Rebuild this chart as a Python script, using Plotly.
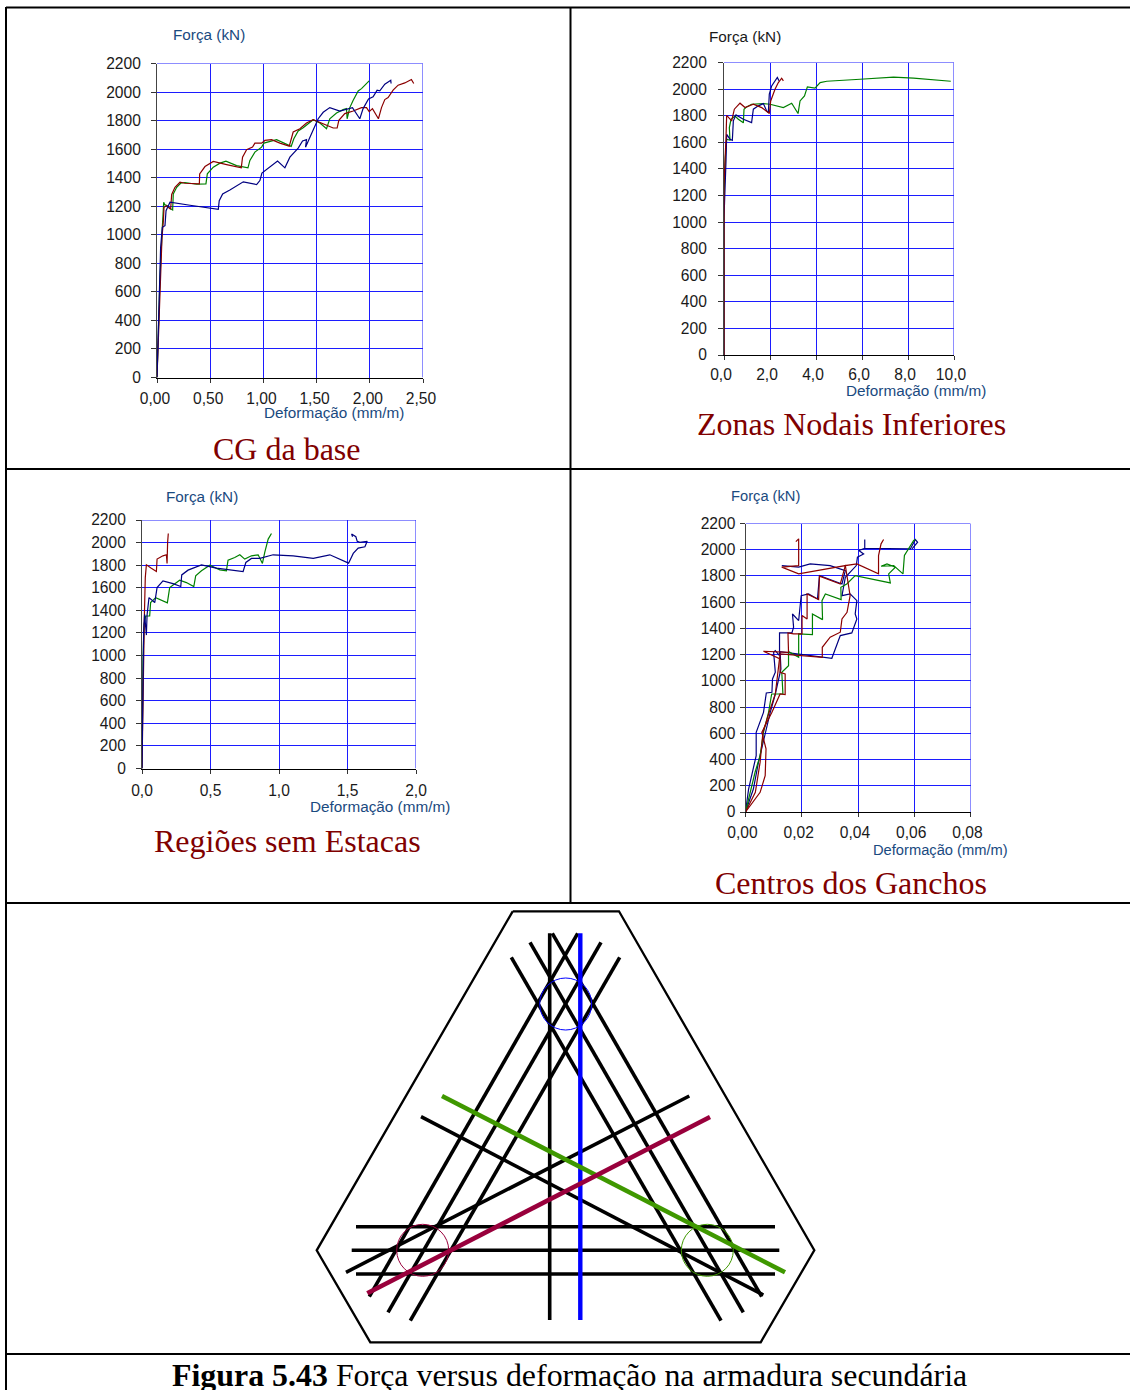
import plotly.graph_objects as go

W, H = 1130, 1390
NAVY, GREEN, RED = "#000080", "#008000", "#8b0000"
GRID = "#1c1cff"
TXT = "#1a4a80"

# ---------- data (deformation mm/m, force kN) ----------
a_green_x = [0,.013,.028,.05,.06,.063,.072,.097,.116,.147,.153,.185,.222,.263,.372,.46,.473,.529,.592,.648,.748,.855,.873,.92,.983,1.005,1.124,1.218,1.261,1.286,1.327,1.374,1.468,1.531,1.593,1.624,1.687,1.75,1.781,1.787,1.812,1.844,1.891,1.922,1.969,1.994]
a_green_y = [0,420,700,1052,1193,1228,1211,1204,1188,1174,1286,1333,1361,1366,1354,1357,1427,1474,1502,1516,1485,1469,1521,1579,1614,1642,1666,1633,1619,1673,1727,1750,1806,1783,1743,1813,1853,1877,1884,1813,1891,1942,2008,2024,2060,2078]
a_red_x = [0,.013,.034,.047,.06,.066,.091,.128,.138,.169,.216,.263,.398,.401,.451,.529,.654,.792,.804,.842,.898,.92,.983,1.014,1.077,1.155,1.243,1.28,1.343,1.405,1.468,1.562,1.656,1.693,1.709,1.765,1.844,1.922,1.969,1.994,2.025,2.081,2.11,2.141,2.172,2.219,2.266,2.329,2.391,2.413]
a_red_y = [0,302,700,982,1099,1193,1204,1179,1282,1333,1368,1361,1357,1427,1478,1514,1492,1469,1544,1596,1614,1642,1642,1661,1666,1642,1621,1720,1743,1783,1806,1778,1748,1748,1802,1849,1867,1891,1891,1863,1884,1813,1891,1947,1961,2013,2048,2064,2088,2060]
a_blue_x = [0,.016,.034,.05,.075,.085,.122,.31,.576,.585,.617,.685,.748,.811,.936,.967,.986,1.061,1.133,1.202,1.249,1.327,1.368,1.405,1.396,1.452,1.499,1.515,1.562,1.624,1.718,1.837,1.906,1.937,1.988,2.031,2.069,2.094,2.141,2.197,2.2]
a_blue_y = [0,420,911,1052,1064,1169,1228,1207,1179,1239,1286,1314,1345,1371,1352,1380,1432,1474,1516,1469,1544,1607,1657,1666,1614,1708,1778,1813,1858,1891,1867,1891,1813,1884,1952,1966,2013,2008,2055,2083,2060]

b_green_x = [0,0,.058,.116,.26,.232,.305,.478,.623,.841,.87,.986,1.2,1.71,2.0,2.581,2.943,3.219,3.306,3.5,3.625,3.958,4.18,4.47,5.92,7.37,8.24,9.86]
b_green_y = [0,1183,1485,1623,1615,1710,1773,1798,1773,1746,1849,1866,1886,1891,1886,1861,1894,1816,1911,1949,2017,2007,2049,2059,2074,2090,2082,2059]
b_red_x = [0,0,.087,.116,.333,.45,.696,.913,1.276,1.638,1.972,2.03,2.218,2.363,2.508,2.581]
b_red_y = [0,1284,1635,1803,1761,1849,1894,1861,1886,1861,1816,1911,1999,2049,2082,2062]
b_blue_x = [0,0,.087,.116,.261,.362,.406,.522,.841,1.2,1.276,1.493,1.71,1.856,1.928,1.97,2.073,2.174,2.319,2.39]
b_blue_y = [0,1033,1460,1660,1623,1615,1761,1806,1773,1748,1849,1874,1891,1836,1823,1962,2024,2049,2087,2062]

c_green_x = [0,.007,.015,.027,.056,.063,.1,.141,.185,.202,.239,.275,.324,.378,.392,.434,.495,.568,.616,.628,.677,.714,.75,.799,.848,.879,.896,.921,.945]
c_green_y = [0,950,1276,1350,1350,1469,1513,1489,1466,1602,1637,1667,1646,1611,1706,1750,1800,1759,1750,1845,1868,1892,1854,1883,1892,1815,1913,2031,2081]
c_red_x = [0,.007,.017,.024,.032,.068,.105,.11,.153,.178,.183,.187,.192]
c_red_y = [0,802,1335,1691,1803,1773,1744,1854,1883,1892,1815,2002,2081]
c_blue_x = [0,.007,.012,.019,.032,.037,.051,.093,.11,.153,.226,.283,.29,.336,.434,.543,.738,.758,.799,.86,.957,1.103,1.25,1.371,1.508,1.542,1.578,1.627,1.644,1.59,1.571,1.561,1.53,1.537]
c_blue_y = [0,891,1217,1365,1181,1359,1513,1469,1602,1661,1637,1611,1714,1756,1803,1774,1744,1824,1860,1860,1892,1883,1860,1892,1818,1904,1951,1963,2011,2002,2011,2052,2076,2052]

d_green_x = [0,.0017,.0034,.0052,.0064,.0082,.0093,.0133,.0129,.0153,.0153,.0189,.0189,.0238,.0238,.0274,.0272,.0284,.034,.0339,.036,.039,.0515,.0509,.0533,.0503,.0482,.0527,.056,.0565,.0598,.0604]
d_green_y = [0,150,303,430,608,760,900,900,1066,1116,1223,1180,1358,1353,1510,1467,1612,1663,1620,1714,1739,1803,1747,1816,1867,1892,1874,1879,1816,1956,2070,2078]
d_red1_x = [0,.0052,.007,.0073,.0058,.0094,.0123,.0141,.0141,.0123,.0123,.0064,.0153,.0151,.0171,.0201,.0201,.0219,.0219,.026,.0263,.0337,.0355,.0189,.0129,.0189,.0189,.0189,.0179]
d_red1_y = [0,150,277,481,608,760,900,895,1053,1066,1167,1226,1218,1366,1358,1358,1498,1472,1663,1620,1798,1739,1879,1816,1867,1879,2000,2083,2062]
d_red2_x = [0,.0035,.0052,.0062,.0084,.0106,.0123,.0273,.0273,.0301,.0337,.0343,.0361,.0372,.0355,.0396,.0473,.0473,.0482,.0491]
d_red2_y = [0,150,380,608,760,900,1205,1180,1256,1333,1371,1472,1523,1650,1879,1892,1816,1956,2045,2078]
d_blue1_x = [0,.0011,.0038,.0038,.0064,.0074,.0094,.0096,.0106,.01,.0106,.0121,.0121,.0165,.0171,.0167,.0189,.0198,.0224,.0256,.0263,.0343,.0355,.0313,.0301,.023,.0189,.0129]
d_blue1_y = [0,175,430,608,760,908,913,1015,1066,1218,1231,1193,1366,1366,1409,1510,1460,1650,1663,1625,1803,1739,1841,1867,1879,1892,1867,1879]
d_blue2_x = [0,.0028,.0046,.007,.0088,.0106,.0126,.0123,.0307,.0337,.0378,.0396,.039,.0396,.0372,.0343,.0355,.0394,.0398,.042,.0403,.0424,.0424,.0424,.0586,.0604,.0612,.0592]
d_blue2_y = [0,175,379,608,760,900,1091,1223,1172,1345,1366,1472,1510,1612,1663,1650,1790,1879,1943,1968,1994,2011,2078,2011,2006,2078,2057,2006]

force_ticks = [0,200,400,600,800,1000,1200,1400,1600,1800,2000,2200]

panels = [
    dict(px=(157,423), py=(63.5,377.5), xr=2.5, xt=[0,.5,1,1.5,2,2.5], xl=["0,00","0,50","1,00","1,50","2,00","2,50"],
         series=[(a_green_x,a_green_y,GREEN),(a_red_x,a_red_y,RED),(a_blue_x,a_blue_y,NAVY)], ylab=7, xlab=3, xshift=-2),
    dict(px=(724,954), py=(62.5,355), xr=10, xt=[0,2,4,6,8,10], xl=["0,0","2,0","4,0","6,0","8,0","10,0"],
         series=[(b_green_x,b_green_y,GREEN),(b_blue_x,b_blue_y,NAVY),(b_red_x,b_red_y,RED)], ylab=8, xlab=1, xshift=-3),
    dict(px=(142,416), py=(520,768.5), xr=2, xt=[0,.5,1,1.5,2], xl=["0,0","0,5","1,0","1,5","2,0"],
         series=[(c_green_x,c_green_y,GREEN),(c_red_x,c_red_y,RED),(c_blue_x,c_blue_y,NAVY)], ylab=7, xlab=4, xshift=0),
    dict(px=(745.5,970.5), py=(523.5,812), xr=.08, xt=[0,.02,.04,.06,.08], xl=["0,00","0,02","0,04","0,06","0,08"],
         series=[(d_blue1_x,d_blue1_y,NAVY),(d_blue2_x,d_blue2_y,NAVY),(d_green_x,d_green_y,GREEN),(d_red1_x,d_red1_y,RED),(d_red2_x,d_red2_y,RED)], ylab=1, xlab=2, xshift=-3),
]

fig = go.Figure()
layout = {}
shapes = []
tick_font = dict(family="Liberation Sans, Arial", size=15.6, color="#1a1a1a")

for i, p in enumerate(panels, 1):
    s = "" if i == 1 else str(i)
    layout[f"xaxis{s}"] = dict(domain=[p["px"][0]/W, p["px"][1]/W], range=[0, p["xr"]], anchor=f"y{s}",
                      tickmode="array", tickvals=p["xt"], ticktext=p["xl"], showgrid=True, gridcolor=GRID, gridwidth=1,
                      zeroline=False, showline=True, linecolor="#000000", linewidth=1, ticks="outside", ticklen=4,
                      tickcolor="#333333", tickfont=tick_font, ticklabelstandoff=p["xlab"], ticklabelshift=p["xshift"])
    layout[f"yaxis{s}"] = dict(domain=[1-p["py"][1]/H, 1-p["py"][0]/H], range=[0, 2200], anchor=f"x{s}",
                      tickmode="array", tickvals=force_ticks, ticktext=[str(v) for v in force_ticks], showgrid=True, gridcolor=GRID, gridwidth=1,
                      zeroline=False, showline=True, linecolor="#444444", linewidth=1, ticks="outside", ticklen=5,
                      tickcolor="#333333", tickfont=tick_font, ticklabelstandoff=p["ylab"])
    for sx, sy, col in p["series"]:
        fig.add_trace(go.Scatter(x=sx, y=sy, mode="lines", line=dict(color=col, width=1.2), xaxis=f"x{s}", yaxis=f"y{s}", showlegend=False, hoverinfo="skip"))
    # last gridlines: plotly leaves out the ones on the range ends
    shapes.append(dict(type="line", xref=f"x{s}", yref=f"y{s}", x0=0, x1=p["xr"], y0=2200, y1=2200, line=dict(color=GRID, width=1), layer="below"))
    shapes.append(dict(type="line", xref=f"x{s}", yref=f"y{s}", x0=p["xr"], x1=p["xr"], y0=0, y1=2200, line=dict(color=GRID, width=1), layer="below"))

# ---------- reinforcement diagram ----------
hex_x = [512.7,619,814.3,760.7,370.3,316.7,512.7]
hex_y = [911.3,911.3,1250.3,1342.3,1342.3,1250.3,911.3]
bars_black = [
    ((549.7,933.3),(549.7,1320)),
    ((552.3,933.3),(761.7,1296.7)), ((530,942.3),(743.3,1312.3)), ((511.3,957.3),(721,1320.7)),
    ((577.7,933.3),(369.3,1296.7)), ((601,942.3),(388,1312.3)), ((619.7,957.3),(410.3,1320.7)),
    ((356,1226.7),(775,1226.7)), ((351.7,1250.3),(779.3,1250.3)), ((356,1274),(775,1274)),
    ((689.3,1096),(346,1272.3)), ((421,1116.7),(763.3,1295)),
]
bar_blue = ((580.3,933.3),(580.3,1320))
bar_green = ((442,1096),(785,1272.3))
bar_crimson = ((710,1117),(367.3,1293.3))
circles = [(565.7,1004,26,"#0000ff"),(422.7,1250.3,26,"#99003c"),(707.3,1250.3,26,"#3f9800")]

# diagram axes span the bottom table cell only, so their plot area does not cover the panels
dx0, dx1, dy0, dy1 = 300, 830, 905, 1352
layout["xaxis5"] = dict(domain=[dx0/W, dx1/W], range=[dx0, dx1], visible=False, anchor="y5", fixedrange=True)
layout["yaxis5"] = dict(domain=[1-dy1/H, 1-dy0/H], range=[dy1, dy0], visible=False, anchor="x5", fixedrange=True)

def bar(seg, col, width):
    fig.add_trace(go.Scatter(x=[seg[0][0],seg[1][0]], y=[seg[0][1],seg[1][1]], mode="lines",
                             line=dict(color=col, width=width), xaxis="x5", yaxis="y5", showlegend=False, hoverinfo="skip"))

fig.add_trace(go.Scatter(x=hex_x, y=hex_y, mode="lines", line=dict(color="#000000", width=2.3), xaxis="x5", yaxis="y5", showlegend=False, hoverinfo="skip"))
for s in bars_black:
    bar(s, "#000000", 3.6)
bar(bar_blue, "#0000ff", 4.4)
bar(bar_green, "#3f9800", 4.6)
bar(bar_crimson, "#99003c", 4.6)

shapes += [dict(type="circle", xref="x5", yref="y5", x0=c[0]-c[2], x1=c[0]+c[2], y0=c[1]-c[2], y1=c[1]+c[2],
               line=dict(color=c[3], width=1), layer="above") for c in circles]

# ---------- table rules ----------
rules = [((6,7.5),(1130,7.5)), ((6,469),(1130,469)), ((6,903),(1130,903)), ((6,1354),(1130,1354)),
         ((6,7),(6,1390)), ((570.5,7),(570.5,903))]
for a, b in rules:
    shapes.append(dict(type="line", xref="paper", yref="paper", x0=a[0]/W, x1=b[0]/W, y0=1-a[1]/H, y1=1-b[1]/H,
                       line=dict(color="#000000", width=2), layer="above"))

# ---------- text ----------
def label(x, y, text, font):
    return dict(xref="paper", yref="paper", x=x/W, y=1-y/H, text=text, showarrow=False, font=font,
                xanchor="center", yanchor="middle", borderpad=0, captureevents=False)

sans = dict(family="Liberation Sans, Arial", size=15.3, color=TXT)
sans_s = dict(family="Liberation Sans, Arial", size=14.7, color=TXT)
sans_k = dict(family="Liberation Sans, Arial", size=15.3, color="#1a1a1a")
serif = dict(family="Liberation Serif, Times New Roman", size=32, color="#800000")
cap = dict(family="Liberation Serif, Times New Roman", size=31.9, color="#000000")
annotations = [
    label(209,35,"Força (kN)",sans), label(745,37,"Força (kN)",sans_k),
    label(202,496.5,"Força (kN)",sans), label(765,496,"Força (kN)",sans_s),
    label(333.5,412.5,"Deformação (mm/m)",sans), label(916,390.5,"Deformação (mm/m)",sans),
    label(379.5,806.5,"Deformação (mm/m)",sans), label(940.5,850,"Deformação (mm/m)",sans_s),
    label(287,449,"CG da base",serif), label(851,424,"Zonas Nodais Inferiores",serif),
    label(287.5,841,"Regiões sem Estacas",serif), label(851,883,"Centros dos Ganchos",serif),
    label(569.5,1375,"<b>Figura 5.43</b> Força versus deformação na armadura secundária",cap),
]

fig.update_layout(width=W, height=H, autosize=False, margin=dict(l=0,r=0,t=0,b=0,autoexpand=False), plot_bgcolor="rgba(0,0,0,0)", paper_bgcolor="#ffffff",
                  shapes=shapes, annotations=annotations, showlegend=False, **layout)
fig.write_html("out.html", config={"displayModeBar": False},
               post_script="document.body.style.margin='0';document.documentElement.style.overflow='hidden';")
